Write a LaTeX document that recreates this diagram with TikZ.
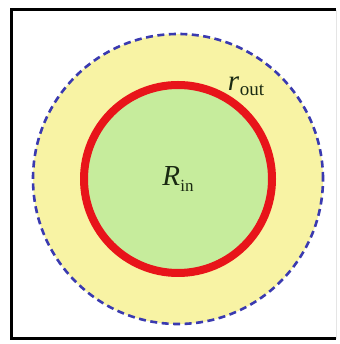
\documentclass[tikz,border=0pt]{standalone}
\usepackage{fontspec}
\setmainfont{Liberation Serif}
\definecolor{ringyellow}{HTML}{F8F3A4}
\definecolor{coregreen}{HTML}{C6EC9C}
\definecolor{ringred}{HTML}{E8141A}
\definecolor{dashblue}{HTML}{3A3AB0}
\definecolor{lbltext}{HTML}{1A2A12}
\begin{document}
\begin{tikzpicture}[x=1pt,y=1pt,
  frame/.style={line width=3pt,black},
  outerring/.style={fill=ringyellow,draw=dashblue,line width=2.6pt,dash pattern=on 7pt off 4.5pt},
  innerdisk/.style={fill=coregreen,draw=ringred,line width=8pt},
  lbl/.style={inner sep=0pt,text=lbltext}]
\useasboundingbox (0,0) rectangle (339,344);
\fill[white] (0,0) rectangle (339,344);
\coordinate (c) at (178,165);
\draw[outerring] (c) circle[radius=145];
\draw[innerdisk] (c) circle[radius=94];
\draw[frame] (336,334) -- (11,334) -- (11,5) -- (336,5);
\draw[black!10,line width=0.8pt] (336,334) -- (336,5);
\node[lbl] (rin) at (178,165) {\fontsize{29}{29}\selectfont\itshape R\kern0.5pt\raisebox{-6pt}{\fontsize{17}{17}\selectfont\upshape in}};
\node[lbl] (rout) at (246,258) {\fontsize{29}{29}\selectfont\itshape r\kern0.5pt\raisebox{-5pt}{\fontsize{19}{19}\selectfont\upshape out}};
\end{tikzpicture}
\end{document}
